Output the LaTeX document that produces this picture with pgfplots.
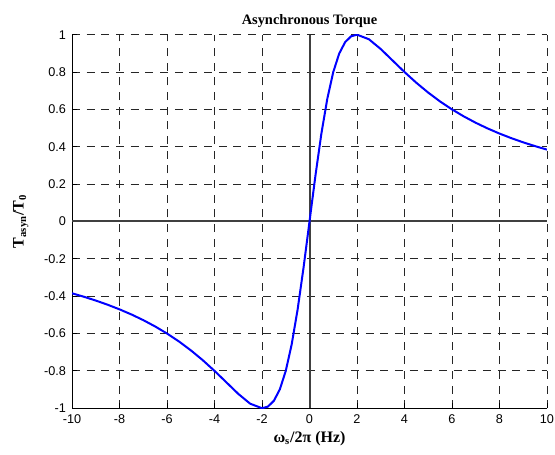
\documentclass[border=0pt]{standalone}
\usepackage{fontspec}
\setmainfont{Liberation Serif}
\newfontfamily\arial{Liberation Sans}
\usepackage{pgfplots}
\pgfplotsset{compat=1.18}
\begin{document}
\begin{tikzpicture}
\begin{axis}[
    name=ax,
    scale only axis,
    width=356pt, height=280pt,
    xmin=-10, xmax=10, ymin=-1, ymax=1,
    xtick={-10,-8,...,10},
    ytick={-1,-0.8,...,1},
    axis x line*=bottom, axis y line*=left,
    axis line style={black, line width=0.8pt},
    tick align=inside, tick style={black, line width=0.6pt},
    major tick length=4pt,
    grid=major,
    grid style={black!85, line width=0.6pt, dash pattern=on 6pt off 5pt},
    ticklabel style={font=\arial\fontsize{9.5}{11}\selectfont},
    xticklabel style={yshift=-1pt},
    yticklabel style={xshift=-1pt},
    /pgf/number format/assume math mode=true,
    title={\textbf{Asynchronous Torque}},
    title style={font=\fontsize{10.8}{12}\selectfont, yshift=-4pt},
    xlabel={\textbf{ω\textsubscript{s}/2π (Hz)}},
    ylabel={\textbf{T\textsubscript{asyn}/T\textsubscript{0}}},
    label style={font=\fontsize{12}{14}\selectfont},
    xlabel style={yshift=1pt},
    ylabel style={yshift=5pt},
]
\draw[black!75, line width=1.5pt] (axis cs:0,-1) -- (axis cs:0,1);
\draw[black!75, line width=1.5pt] (axis cs:-10,0) -- (axis cs:10,0);
\addplot[blue, line width=1.5pt] coordinates {
(-10,-0.3846) (-9.5,-0.4032) (-9,-0.4235) (-8.5,-0.4459) (-8,-0.4706)
(-7.5,-0.4979) (-7,-0.5283) (-6.5,-0.5622) (-6,-0.6) (-5.5,-0.6423)
(-5,-0.6897) (-4.5,-0.7423) (-4,-0.8) (-3.5,-0.8615) (-3,-0.9231)
(-2.5,-0.9756) (-2,-1) (-1.75,-0.9912) (-1.5,-0.96) (-1.25,-0.8989)
(-1,-0.8) (-0.75,-0.6575) (-0.5,-0.4706) (-0.25,-0.246) (0,0)
(0.25,0.246) (0.5,0.4706) (0.75,0.6575) (1,0.8) (1.25,0.8989)
(1.5,0.96) (1.75,0.9912) (2,1) (2.5,0.9756) (3,0.9231)
(3.5,0.8615) (4,0.8) (4.5,0.7423) (5,0.6897) (5.5,0.6423)
(6,0.6) (6.5,0.5622) (7,0.5283) (7.5,0.4979) (8,0.4706)
(8.5,0.4459) (9,0.4235) (9.5,0.4032) (10,0.3846)
};
\end{axis}
\pgfresetboundingbox
\path ([xshift=-54pt,yshift=-35pt]ax.south west) rectangle ([xshift=6pt,yshift=26pt]ax.north east);
\end{tikzpicture}
\end{document}
